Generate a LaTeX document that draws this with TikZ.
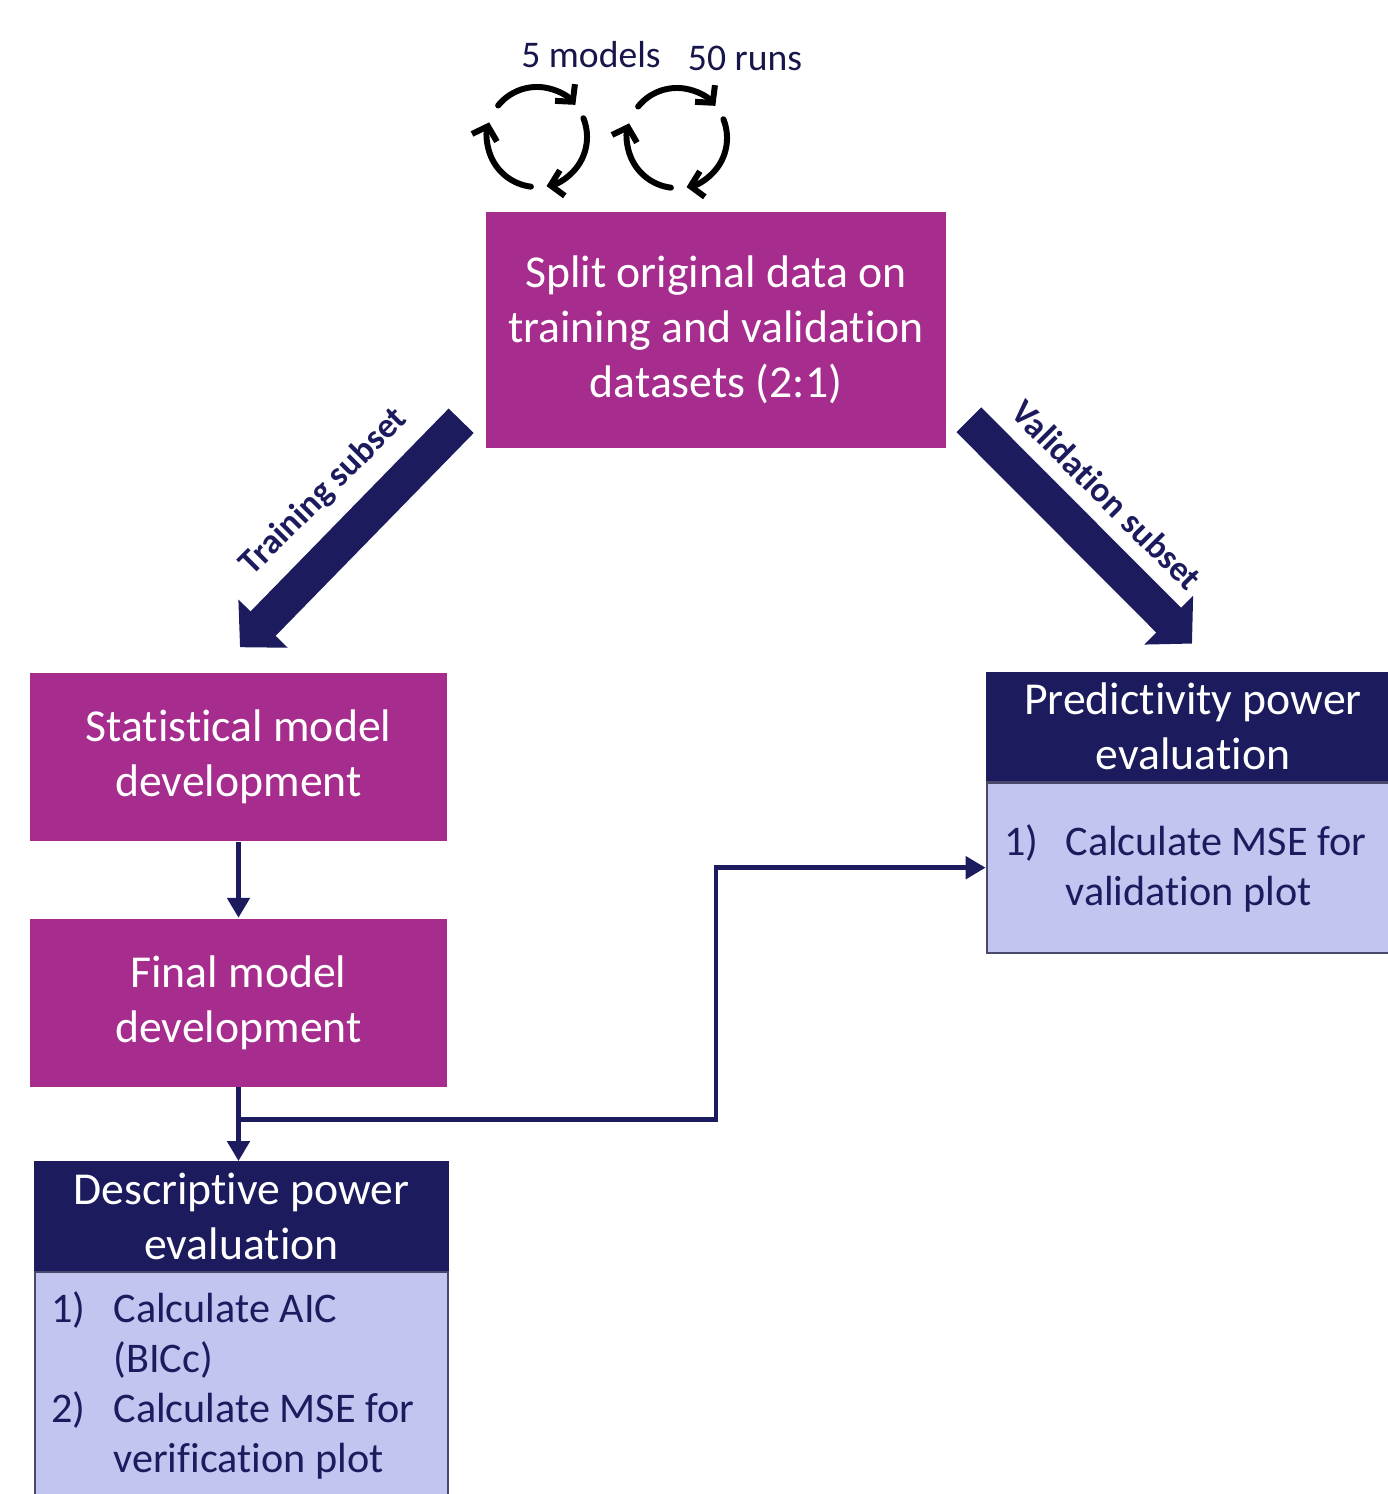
\documentclass[tikz,border=0pt]{standalone}
\usepackage{fontspec}
\setmainfont{Carlito}[Ligatures=NoCommon]
\usepackage{xcolor}
\usetikzlibrary{arrows.meta,positioning,calc}
\definecolor{plum}{RGB}{166,44,141}
\definecolor{navy}{RGB}{28,27,94}
\definecolor{lavender}{RGB}{193,197,240}

\begin{document}
\begin{tikzpicture}[
  x=0.01cm, y=0.01cm,
  box/.style={rectangle,inner sep=2pt,align=center,text=white,font=\fontsize{13}{15.6}\selectfont},
  plumbox/.style={box,fill=plum,minimum width=4.17cm,minimum height=1.68cm},
  head/.style={box,fill=navy,draw=navy,line width=0.5pt,minimum height=1.08cm},
  body/.style={rectangle,fill=lavender,draw=navy!55!gray,line width=0.7pt},
  items/.style={inner sep=0pt,text=navy,font=\fontsize{12}{14.2}\selectfont},
  lbl/.style={text=navy,font=\fontsize{10}{12}\selectfont\bfseries},
  cnt/.style={text=navy!80!black,font=\fontsize{10.7}{13}\selectfont},
  arr/.style={navy,line width=1.4pt,-{Triangle[length=0.2cm,width=0.22cm]}},
  fat/.style={navy,line width=0.35cm,-{Triangle[length=0.33cm,width=0.67cm]}},
  cyc/.style={black,line width=1.7pt,line cap=round,-{Straight Barb[length=0.12cm,width=0.26cm]}},
  node distance=0.76cm
]
\useasboundingbox (0,0) rectangle (1388,-1494);
% boxes
\node[plumbox,minimum width=4.60cm,minimum height=2.36cm] (split) at (716,-330) {Split original data on\\training and validation\\datasets (2:1)};
\node[plumbox] (stat) at (238.5,-757) {Statistical model\\development};
\node[plumbox,below=of stat] (final) {Final model\\development};
\node[head,minimum width=4.13cm] (desch) at (241.5,-1216) {Descriptive power\\evaluation};
\node[body,minimum width=4.13cm,minimum height=2.40cm,below=0cm of desch] (descb) {};
\node[items,anchor=north west] (desctxt) at ($(descb.north west)+(17,-16)$) {\begin{tabular}{@{}l@{\hspace{0.28cm}}l@{}}1) & Calculate AIC\\ & (BICc)\\ 2) & Calculate MSE for\\ & verification plot\end{tabular}};
\node[head,minimum width=4.12cm] (predh) at (1193,-726.5) {Predictivity power\\evaluation};
\node[body,minimum width=4.12cm,minimum height=1.70cm,below=0cm of predh] (predb) {};
\node[items,anchor=north west] (predtxt) at ($(predb.north west)+(18,-38)$) {\begin{tabular}{@{}l@{\hspace{0.27cm}}l@{}}1) & Calculate MSE for\\ & validation plot\end{tabular}};
% thin connectors
\draw[arr] (stat) -- (final);
\draw[arr] (final.south) -- (final.south |- desch.north);
\coordinate (branch) at ($(final.south)!0.43!(final.south |- desch.north)$);
\coordinate (elbow) at (branch -| split);
\draw[arr] (branch) -- (elbow) |- (predb.west);
% subset arrows
\coordinate (trainstart) at ($(split.south west)+(-24,28)$);
\coordinate (traintip) at ($(stat.north)+(1.5,25)$);
\coordinate (valstart) at ($(split.south east)+(22,29)$);
\coordinate (valtip) at ($(predh.north)+(-1,28)$);
\draw[fat] (trainstart) -- (traintip);
\draw[fat] (valstart) -- (valtip);
\node[lbl,rotate=45] (trainlbl) at (324,-492) {Training subset};
\node[lbl,rotate=-45] (vallbl) at (1107,-495) {Validation subset};
% loops
\coordinate (cycA) at (537,-137);
\coordinate (cycB) at (677,-138);
\foreach \c in {cycA,cycB}
  \foreach \a/\b in {141/40, 22/-79, -97/-197}
    \draw[cyc] (\c) ++(\a:0.5cm) arc[start angle=\a, end angle=\b, radius=0.5cm];
\node[cnt] (nmodels) at (591,-55) {5 models};
\node[cnt] (nruns) at (745,-58) {50 runs};
\end{tikzpicture}
\end{document}
